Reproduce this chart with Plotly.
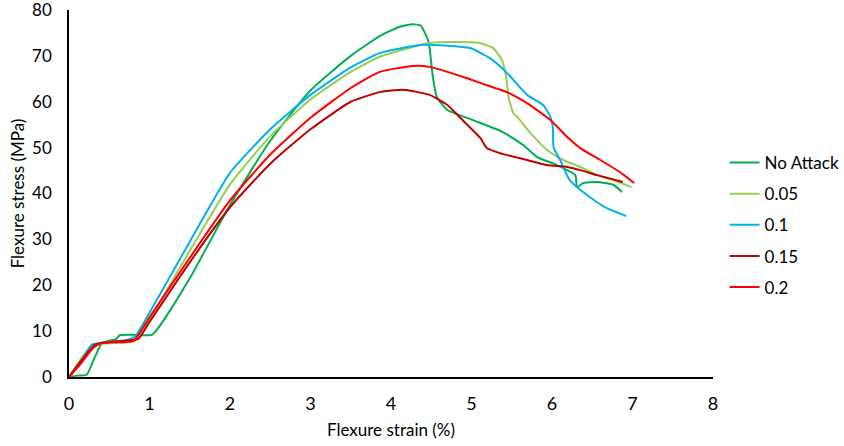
import plotly.graph_objects as go

# Flexural stress-strain curves, strain in %, stress in MPa
strain_no_attack = [0.0, 0.10, 0.22, 0.30, 0.41, 0.50, 0.58, 0.63, 0.80, 1.03, 1.10, 1.20, 1.50, 2.00, 2.50,
                    3.00, 3.50, 3.86, 4.10, 4.27, 4.37, 4.42, 4.47, 4.52, 4.57, 4.70, 5.02, 5.39,
                    5.64, 5.81, 6.06, 6.29, 6.31, 6.39, 6.56, 6.76, 6.87]
stress_no_attack = [0.0, 0.3, 0.5, 3.5, 7.4, 7.9, 8.2, 9.1, 9.2, 9.2, 10.5, 13.0, 21.5, 37.5, 51.5,
                    62.5, 70.0, 74.3, 76.3, 76.9, 76.6, 75.0, 72.8, 65.4, 61.0, 58.2, 56.0, 53.4,
                    50.6, 48.0, 46.2, 44.0, 41.4, 42.3, 42.5, 41.9, 40.3]

strain_005 = [0.0, 0.15, 0.30, 0.45, 0.70, 0.85, 1.00, 1.50, 2.00, 2.50, 3.00, 3.50, 3.86, 4.48, 4.86,
              5.10, 5.27, 5.38, 5.43, 5.46, 5.52, 5.57, 5.73, 5.94, 6.14, 6.35, 6.56, 6.76, 6.99]
stress_005 = [0.0, 4.0, 6.8, 7.3, 7.6, 8.3, 12.5, 27.5, 42.0, 52.5, 60.5, 66.5, 69.8, 72.8, 73.0,
              72.8, 71.7, 69.0, 65.4, 61.0, 57.5, 56.7, 53.2, 49.5, 47.3, 45.8, 44.0, 42.9, 41.4]

strain_01 = [0.0, 0.15, 0.28, 0.45, 0.70, 0.82, 1.00, 1.50, 2.00, 2.50, 3.00, 3.50, 3.86, 4.40, 4.98,
             5.23, 5.44, 5.69, 5.89, 5.98, 6.01, 6.02, 6.10, 6.22, 6.35, 6.56, 6.68, 6.92]
stress_01 = [0.0, 3.6, 7.0, 7.6, 8.0, 8.8, 14.0, 29.5, 44.5, 54.0, 61.5, 67.5, 70.6, 72.4, 71.7,
             69.5, 66.3, 61.5, 59.3, 56.7, 54.5, 50.1, 47.3, 42.9, 40.8, 38.1, 36.8, 35.1]

strain_015 = [0.0, 0.15, 0.32, 0.50, 0.70, 0.86, 1.00, 1.50, 2.00, 2.50, 3.00, 3.50, 3.86, 4.15, 4.48,
              4.70, 4.86, 5.11, 5.19, 5.35, 5.69, 5.94, 6.19, 6.35, 6.56, 6.88]
stress_015 = [0.0, 3.5, 7.0, 7.6, 7.9, 8.3, 12.0, 25.0, 37.0, 46.5, 54.0, 60.0, 62.1, 62.6, 61.5,
              59.3, 56.5, 52.1, 49.9, 48.8, 47.3, 46.2, 45.8, 45.1, 44.0, 42.5]

strain_02 = [0.0, 0.15, 0.30, 0.40, 0.60, 0.80, 1.00, 1.50, 2.00, 2.50, 3.00, 3.50, 3.86, 4.27, 4.48,
             4.90, 5.19, 5.44, 5.69, 5.98, 6.19, 6.35, 6.60, 6.84, 7.02]
stress_02 = [0.0, 3.0, 6.3, 7.4, 7.6, 7.8, 13.0, 26.0, 38.5, 48.5, 56.5, 63.0, 66.5, 67.8, 67.6,
             65.4, 63.6, 62.1, 59.7, 56.0, 52.3, 49.9, 47.3, 44.7, 42.3]

series = [
    ("No Attack", strain_no_attack, stress_no_attack, "#00B050"),
    ("0.05", strain_005, stress_005, "#92D050"),
    ("0.1", strain_01, stress_01, "#00B0F0"),
    ("0.15", strain_015, stress_015, "#C00000"),
    ("0.2", strain_02, stress_02, "#FF0000"),
]

FONT = "Lato, 'Open Sans', sans-serif"

fig = go.Figure()
for name, xs, ys, color in series:
    fig.add_trace(go.Scatter(
        x=xs, y=ys, name=name, mode="lines", legendgroup=name,
        line=dict(color=color, width=2, shape="spline", smoothing=0.5),
    ))

fig.update_layout(
    width=844, height=446,
    margin=dict(l=69, r=131, t=10, b=69, autoexpand=False),
    paper_bgcolor="white", plot_bgcolor="white",
    font=dict(family=FONT, size=17, color="#000000"),
    showlegend=True,
    legend=dict(x=1.018, y=0.414, xanchor="left", yanchor="middle",
                font=dict(size=17), tracegroupgap=6, itemwidth=30,
                bgcolor="rgba(0,0,0,0)"),
)
fig.update_xaxes(
    range=[0, 8], dtick=1, showgrid=False, zeroline=False,
    showline=True, linecolor="#000000", linewidth=1.5, ticks="",
    ticklabelstandoff=10, ticklabeloverflow="allow",
    tickfont=dict(size=18),
    title=dict(text="Flexure strain (%)", standoff=11, font=dict(size=17)),
)
fig.update_yaxes(
    range=[0, 80], dtick=10, showgrid=False, zeroline=False,
    showline=True, linecolor="#000000", linewidth=1.5, ticks="",
    ticklabelstandoff=12, ticklabeloverflow="allow",
    tickfont=dict(size=17),
    title=dict(text="Flexure stress (MPa)", standoff=3, font=dict(size=17)),
)

fig.write_html("out.html")
